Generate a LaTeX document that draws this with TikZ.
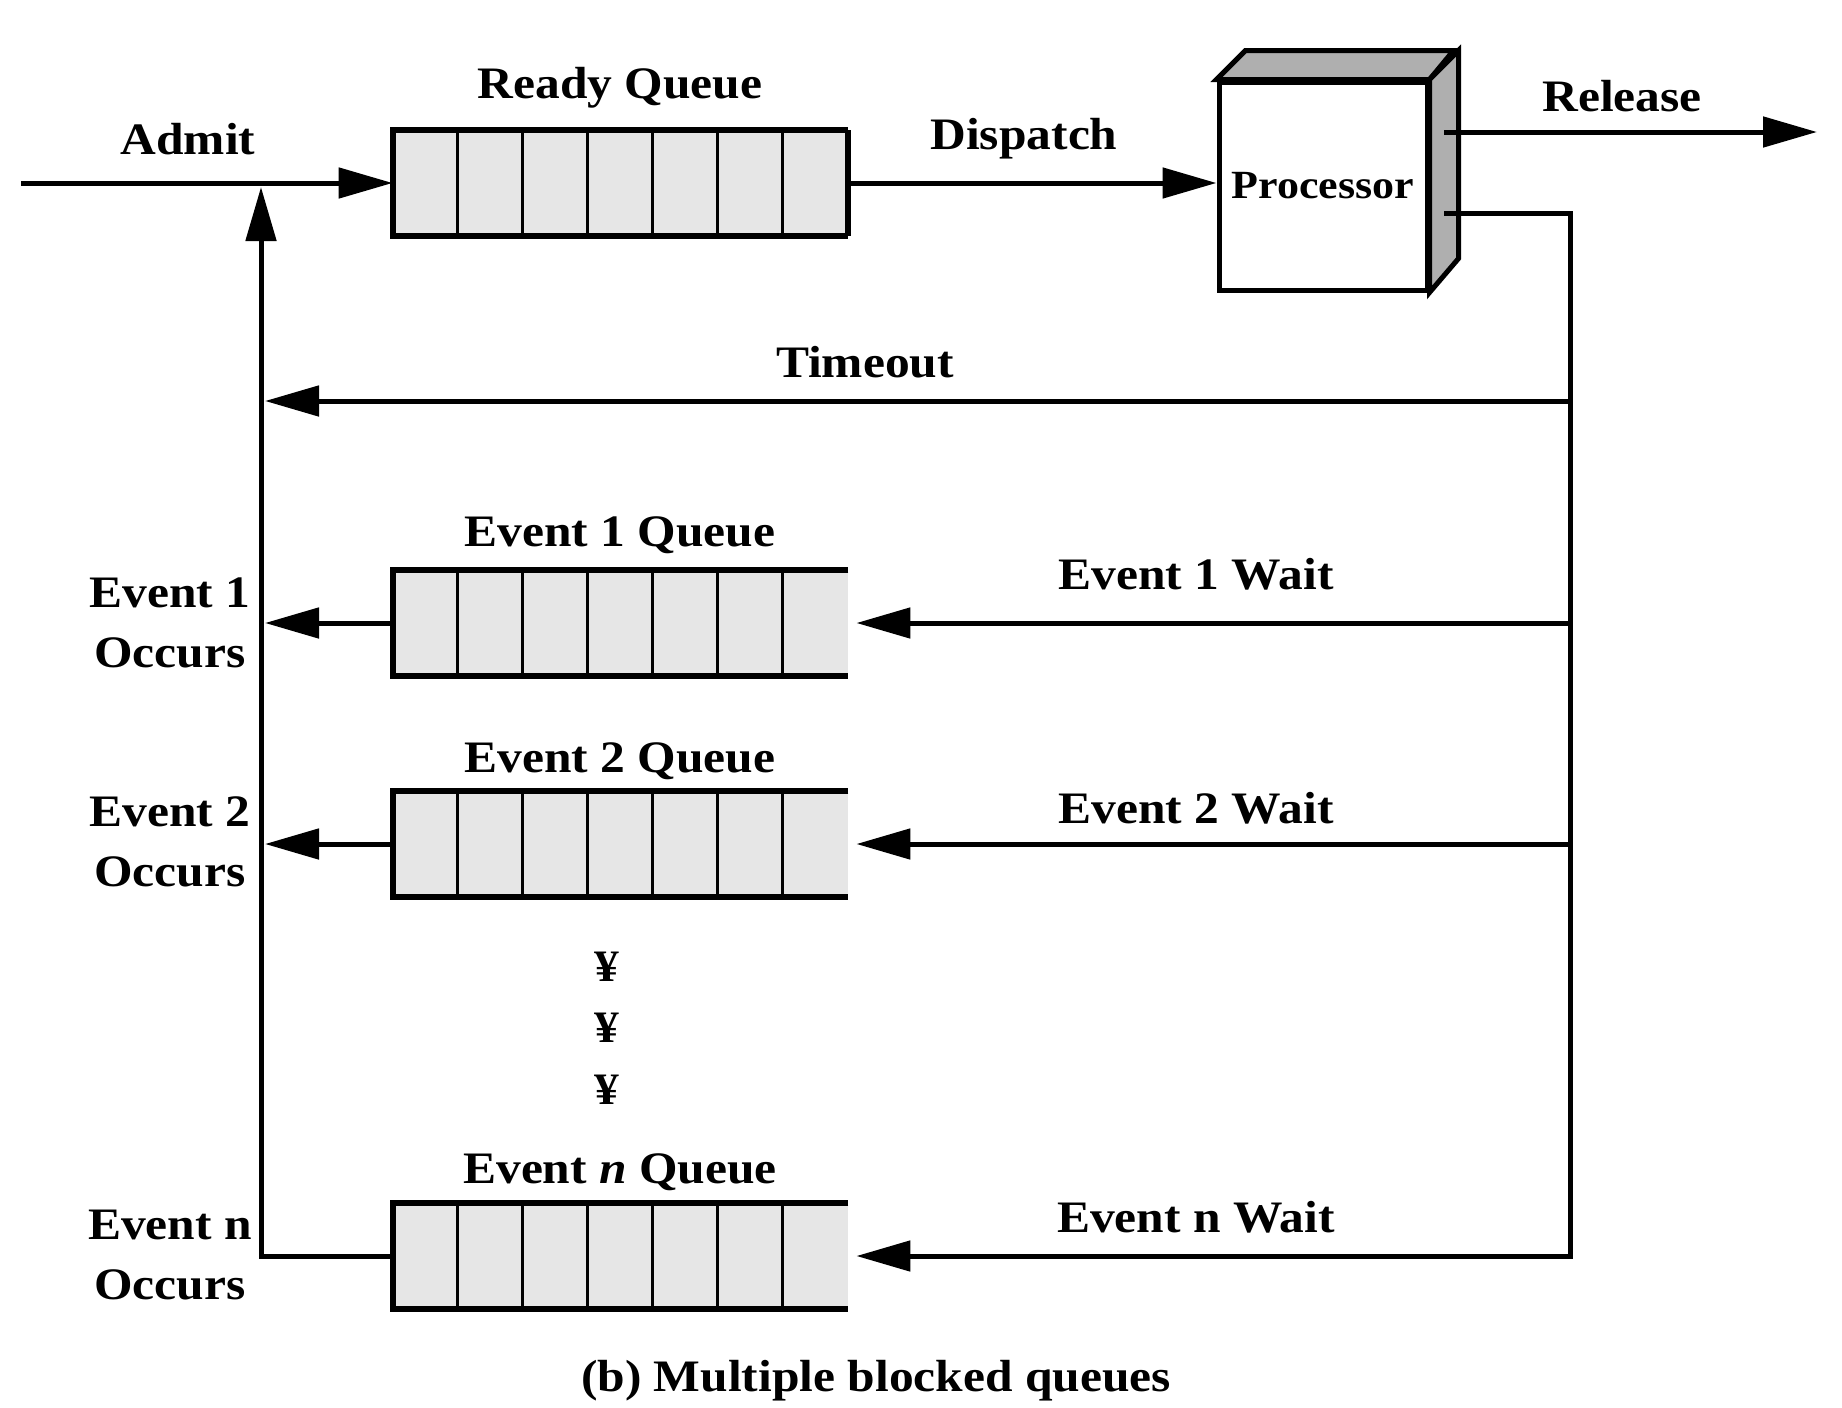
\documentclass[tikz,border=0pt]{standalone}
\usepackage{fontspec}
\setmainfont{Liberation Serif}[FakeStretch=1.1]
\usetikzlibrary{arrows.meta,calc}
\definecolor{qgray}{HTML}{E6E6E6}
\definecolor{pgray}{HTML}{AFAFAF}
\begin{document}
\begin{tikzpicture}[x=0.5pt,y=-0.5pt,
  lbl/.style={font=\fontsize{22.5}{30}\selectfont\bfseries, inner sep=0pt, align=center},
  conn/.style={line width=2.5pt, line join=miter},
  arr/.style={conn, -{Triangle[length=27pt,width=15pt]}},
  qbox/.style={fill=qgray, minimum width=227.5pt, minimum height=52.5pt, inner sep=0pt, draw=none},
  qline/.style={line width=3pt},
  cline/.style={line width=1.6pt},
]
\useasboundingbox (0,0) rectangle (1842,1408);
\fill[white] (0,0) rectangle (1842,1408);

% queues
\node[qbox] (rq)  at (620.5,183)  {};
\node[qbox] (e1q) at (620.5,623)  {};
\node[qbox] (e2q) at (620.5,844)  {};
\node[qbox] (enq) at (620.5,1256) {};
\foreach \q in {rq,e1q,e2q,enq}{
  \foreach \i in {1,...,6}{
    \draw[cline] ($(\q.north west)+(\i*65,0)$) -- ($(\q.south west)+(\i*65,0)$);
  }
  \draw[qline] (\q.north east) -- (\q.north west) -- (\q.south west) -- (\q.south east);
}
\draw[qline] (rq.north east) -- (rq.south east);

% processor
\node[draw, line width=2.5pt, fill=white, minimum width=104pt, minimum height=104pt, inner sep=0pt,
      font=\fontsize{20}{24}\selectfont\bfseries] (proc) at (1323,186) {Processor};
\draw[line width=2.5pt, fill=pgray, line join=miter] (proc.north west) -- ++(29,-29) -- ++(208,0) -- (proc.north east) -- cycle;
\draw[line width=2.5pt, fill=pgray, line join=miter] (proc.north east) -- ++(29,-29) -- ++(0,208) -- (proc.south east) -- cycle;

% labels
\node[lbl] (lready) at (620,88)   {Ready Queue};
\node[lbl] (le1q)   at (620,535)  {Event 1 Queue};
\node[lbl] (le2q)   at (620,761)  {Event 2 Queue};
\node[lbl] (lenq)   at (620,1172) {Event \textit{n} Queue};
\node[lbl] (ladmit) at (188,139)  {Admit};
\node[lbl] (ldisp)  at (1024,139) {Dispatch};
\node[lbl] (lrel)   at (1622,96)  {Release};
\node[lbl] (ltime)  at (865,362)  {Timeout};
\node[lbl] (le1w)   at (1196,574) {Event 1 Wait};
\node[lbl] (le2w)   at (1196,808) {Event 2 Wait};
\node[lbl] (lenw)   at (1196,1217){Event n Wait};
\node[lbl] (le1o)   at (170,623)  {Event 1\\Occurs};
\node[lbl] (le2o)   at (170,842)  {Event 2\\Occurs};
\node[lbl] (leno)   at (170,1255) {Event n\\Occurs};
\node[lbl] (d1) at (607,967)  {¥};
\node[lbl] (d2) at (607,1028) {¥};
\node[lbl] (d3) at (607,1090) {¥};
\node[lbl] (cap) at (876,1381) {(b) Multiple blocked queues};

% coordinates
\coordinate (in)    at (21,183);
\coordinate (junc)  at (261,187);
\coordinate (relout) at (1444,132);
\coordinate (relend) at (1817,132);
\coordinate (wout)  at (1444,213);
\coordinate (rbot)  at (1570,1256);
\coordinate (tR)    at (1570,401);
\coordinate (e1R)   at (1570,623);
\coordinate (e2R)   at (1570,844);

% connectors
\draw[arr] (in) -- (rq.west);
\draw[arr] (rq.east) -- (rq.east -| proc.west);
\draw[arr] (relout) -- (relend);
\draw[arr, shorten >=4pt] (wout) -| (rbot) -- (enq.east);
\draw[arr] (enq.west) -| (junc);
\draw[arr, shorten >=2pt] (tR) -- (tR -| junc);
\draw[arr, shorten >=4pt] (e1R) -- (e1q.east);
\draw[arr, shorten >=4pt] (e2R) -- (e2q.east);
\draw[arr, shorten >=2pt] (e1q.west) -- (e1q.west -| junc);
\draw[arr, shorten >=2pt] (e2q.west) -- (e2q.west -| junc);
\end{tikzpicture}
\end{document}
